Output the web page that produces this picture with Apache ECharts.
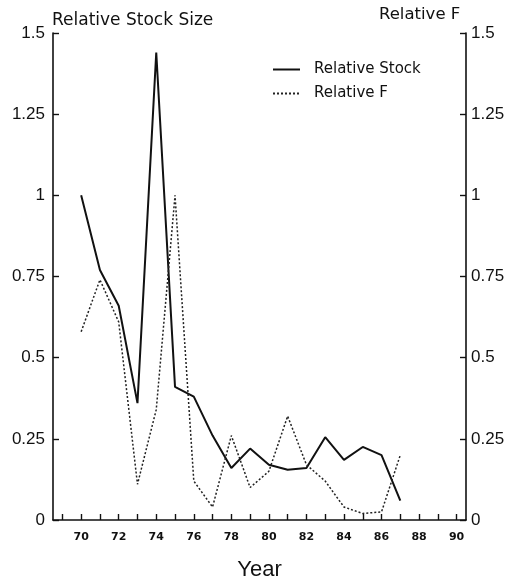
<!DOCTYPE html>
<html>
<head>
<meta charset="utf-8">
<script src="https://cdn.jsdelivr.net/npm/echarts@6/dist/echarts.min.js"></script>
<style>
  html, body { margin: 0; padding: 0; background: #fff; }
  #chart { width: 512px; height: 586px; }
</style>
</head>
<body>
<div id="chart"></div>
<script>
// values
const years = [70, 71, 72, 73, 74, 75, 76, 77, 78, 79, 80, 81, 82, 83, 84, 85, 86, 87]
const relStock = [1.0, 0.77, 0.66, 0.36, 1.44, 0.41, 0.38, 0.26, 0.16, 0.22, 0.17, 0.155, 0.16, 0.255, 0.185, 0.225, 0.20, 0.06]
const relF = [0.58, 0.74, 0.61, 0.11, 0.34, 1.0, 0.12, 0.04, 0.26, 0.10, 0.15, 0.32, 0.17, 0.12, 0.04, 0.02, 0.025, 0.20]
const tickYears = [69, 70, 71, 72, 73, 74, 75, 76, 77, 78, 79, 80, 81, 82, 83, 84, 85, 86, 87, 88, 89, 90]
const labelYears = [70, 72, 74, 76, 78, 80, 82, 84, 86, 88, 90]

const ink = '#111'
const font = '"Liberation Sans", Arial, sans-serif'
const wideFont = '"DejaVu Sans", sans-serif'

const yAxisBase = {
  type: 'value',
  min: 0,
  max: 1.5,
  interval: 0.25,
  splitLine: { show: false },
  axisLine: { show: true, lineStyle: { color: ink, width: 1.6 } },
  axisTick: { show: true, inside: true, length: 6, lineStyle: { color: ink, width: 1.4 } },
  axisLabel: { color: ink, fontSize: 17, fontFamily: font },
}

const chart = echarts.init(document.getElementById('chart'))
chart.setOption({
  backgroundColor: '#fff',
  animation: false,
  title: [
    { text: 'Relative Stock Size', left: 52, top: 12, padding: 0, textStyle: { color: ink, fontSize: 17, fontWeight: 'normal', fontFamily: wideFont } },
    { text: 'Relative F', left: 379, top: 6, padding: 0, textStyle: { color: ink, fontSize: 16.5, fontWeight: 'normal', fontFamily: wideFont } },
  ],
  legend: {
    orient: 'vertical',
    left: 272,
    top: 62,
    padding: 0,
    itemWidth: 27,
    itemHeight: 12,
    itemGap: 9,
    itemStyle: { opacity: 0 },
    textStyle: { color: ink, fontSize: 15, fontFamily: wideFont, padding: [0, 0, 0, 9] },
    data: ['Relative Stock', 'Relative F'],
  },
  grid: { left: 53, right: 46, top: 33, bottom: 63 },
  xAxis: {
    type: 'value',
    min: 68.5,
    max: 90.5,
    name: 'Year',
    nameLocation: 'middle',
    nameGap: 39,
    nameTextStyle: { color: ink, fontSize: 22, fontFamily: font },
    splitLine: { show: false },
    axisLine: { lineStyle: { color: ink, width: 1.6 } },
    axisTick: { show: true, inside: true, length: 6, customValues: tickYears, lineStyle: { color: ink, width: 1.4 } },
    axisLabel: { color: ink, fontSize: 11, fontWeight: 'bold', fontFamily: wideFont, margin: 12, customValues: labelYears },
  },
  yAxis: [
    { ...yAxisBase, position: 'left', axisLabel: { ...yAxisBase.axisLabel, margin: 8 } },
    { ...yAxisBase, position: 'right', axisLabel: { ...yAxisBase.axisLabel, margin: 5 } },
  ],
  series: [
    {
      name: 'Relative Stock',
      type: 'line',
      yAxisIndex: 0,
      symbol: 'none',
      data: years.map((y, i) => [y, relStock[i]]),
      lineStyle: { color: ink, width: 2 },
      itemStyle: { color: ink },
    },
    {
      name: 'Relative F',
      type: 'line',
      yAxisIndex: 1,
      symbol: 'none',
      data: years.map((y, i) => [y, relF[i]]),
      lineStyle: { color: '#222', width: 1.5, type: [2, 2] },
      itemStyle: { color: '#222' },
    },
  ],
})
</script>
</body>
</html>
